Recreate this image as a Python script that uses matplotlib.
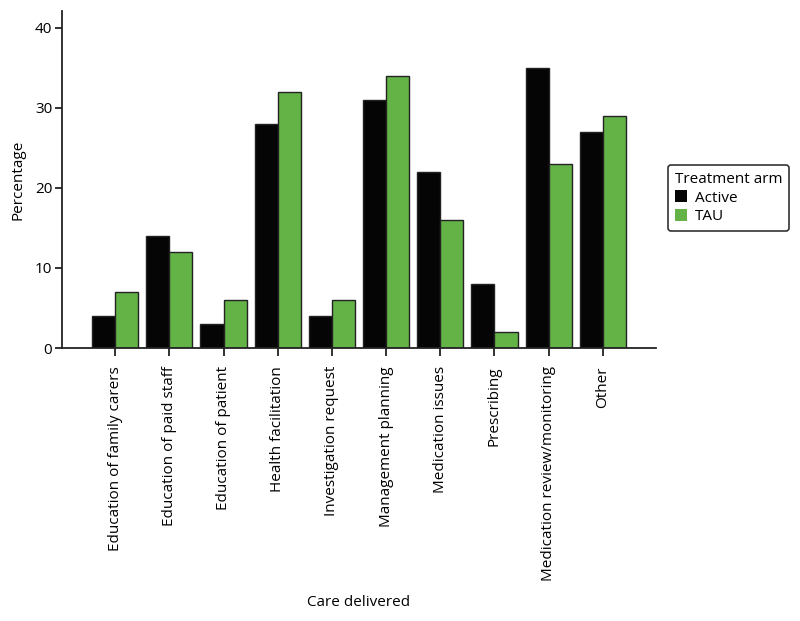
import matplotlib
matplotlib.use("Agg")
import matplotlib.pyplot as plt
import numpy as np

plt.rcParams.update({
    "font.family": ["Open Sans", "DejaVu Sans"],
    "font.size": 11,
})

categories = ["Education of family carers", "Education of paid staff", "Education of patient",
              "Health facilitation", "Investigation request", "Management planning",
              "Medication issues", "Prescribing", "Medication review/monitoring", "Other"]
active = [4, 14, 3, 28, 4, 31, 22, 8, 35, 27]
tau = [7, 12, 6, 32, 6, 34, 16, 2, 23, 29]
series_labels = ["Active", "TAU"]

COLORS = {"Active": "#050505", "TAU": "#63b346"}

x = np.arange(len(categories))
width = 0.425

fig = plt.figure(figsize=(8, 6.21), dpi=100)
ax = fig.add_axes([0.0775, 0.4396, 0.7425, 0.5426])

ax.bar(x - width / 2, active, width, color=COLORS["Active"], edgecolor="#222222",
       linewidth=1, label=series_labels[0])
ax.bar(x + width / 2, tau, width, color=COLORS["TAU"], edgecolor="#222222",
       linewidth=1, label=series_labels[1])

ax.set_xlim(-0.98, len(categories) - 1 + 0.98)
ax.set_ylim(0, 42.1)
ax.set_yticks([0, 10, 20, 30, 40])
ax.set_xticks(x)
ax.set_xticklabels(categories, rotation=90)

for side in ["top", "right"]:
    ax.spines[side].set_visible(False)
for side in ["left", "bottom"]:
    ax.spines[side].set_linewidth(1.3)
    ax.spines[side].set_color("#222222")
ax.tick_params(axis="both", width=1.3, color="#222222", labelsize=11)
ax.tick_params(axis="x", length=6, pad=7)
ax.tick_params(axis="y", length=5, pad=2)

ax.set_ylabel("Percentage", labelpad=7)
ax.set_xlabel("Care delivered", labelpad=10)

leg = ax.legend(title="Treatment arm", loc="center left", bbox_to_anchor=(1.007, 0.445),
                frameon=True, fancybox=True, edgecolor="black", handlelength=0.8,
                handleheight=0.8, handletextpad=0.5, borderpad=0.45, labelspacing=0.22,
                fontsize=11, title_fontsize=11)
leg._legend_box.align = "left"
leg.get_frame().set_linewidth(1.2)
for h in leg.legend_handles:
    h.set_edgecolor("none")

fig.savefig("out.png", dpi=100)
